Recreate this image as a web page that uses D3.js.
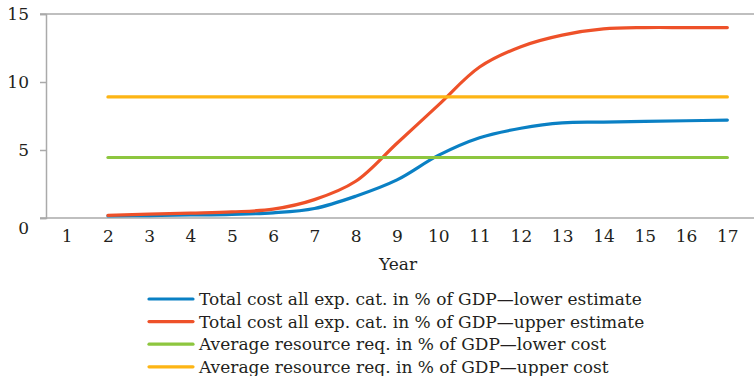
<!DOCTYPE html>
<html>
<head>
<meta charset="utf-8">
<script src="https://cdn.jsdelivr.net/npm/d3@7"></script>
<style>
  html, body { margin: 0; padding: 0; background: #fff; }
  svg { display: block; font-family: "DejaVu Serif", serif; }
</style>
</head>
<body>
<svg id="chart" width="754" height="376"></svg>
<script>
// Years on the horizontal axis
const years = [1, 2, 3, 4, 5, 6, 7, 8, 9, 10, 11, 12, 13, 14, 15, 16, 17];
// Series start at year 2
const seriesYears = [2, 3, 4, 5, 6, 7, 8, 9, 10, 11, 12, 13, 14, 15, 16, 17];
const totalLower = [0.15, 0.18, 0.22, 0.27, 0.38, 0.7, 1.6, 2.8, 4.6, 5.9, 6.6, 7.0, 7.05, 7.1, 7.15, 7.2];
const totalUpper = [0.2, 0.28, 0.36, 0.45, 0.65, 1.35, 2.7, 5.5, 8.3, 11.1, 12.6, 13.45, 13.9, 14.0, 14.0, 14.0];
const avgLower = seriesYears.map(() => 4.45);
const avgUpper = seriesYears.map(() => 8.9);
const yTicks = [0, 5, 10, 15];
const seriesNames = [
  "Total cost all exp. cat. in % of GDP\u2014lower estimate",
  "Total cost all exp. cat. in % of GDP\u2014upper estimate",
  "Average resource req. in % of GDP\u2014lower cost",
  "Average resource req. in % of GDP\u2014upper cost"
];
const seriesColors = ["#0a80c4", "#ee5129", "#8dc63f", "#fdb515"];
const seriesValues = [totalLower, totalUpper, avgLower, avgUpper];

const svg = d3.select("#chart");
const axisColor = "#aaaaaa";
const textColor = "#231f20";
const fontSize = "17px";

const x = d3.scalePoint().domain(years).range([46, 748]).padding(0.5);
const y = d3.scaleLinear().domain([0, 15]).range([218, 14]);

// Top boundary line and x-axis baseline
svg.append("line").attr("x1", 40).attr("x2", 754).attr("y1", y(15)).attr("y2", y(15))
  .attr("stroke", axisColor).attr("stroke-width", 1.5);
svg.append("line").attr("x1", 40).attr("x2", 754).attr("y1", y(0)).attr("y2", y(0))
  .attr("stroke", axisColor).attr("stroke-width", 1.5);

// Y axis
const yAxis = svg.append("g").attr("transform", "translate(46,0)")
  .call(d3.axisLeft(y).tickValues(yTicks).tickSize(6).tickPadding(11).tickFormat(d3.format("d")));
yAxis.select(".domain").attr("stroke", axisColor).attr("stroke-width", 1.5);
yAxis.selectAll(".tick line").attr("stroke", axisColor).attr("stroke-width", 1.5);
yAxis.selectAll(".tick text")
  .attr("fill", textColor)
  .style("font-family", "'DejaVu Serif', serif")
  .style("font-size", fontSize)
  .attr("dy", d => d === 0 ? "0.9em" : "0.35em");

// X axis labels (no tick marks)
const xAxis = svg.append("g").attr("transform", `translate(0,${y(0)})`)
  .call(d3.axisBottom(x).tickSize(0).tickPadding(12));
xAxis.select(".domain").remove();
xAxis.selectAll(".tick text")
  .attr("fill", textColor)
  .style("font-family", "'DejaVu Serif', serif")
  .style("font-size", fontSize);

svg.append("text").attr("x", 398).attr("y", 270).attr("text-anchor", "middle")
  .attr("fill", textColor).style("font-size", fontSize).text("Year");

// Series lines, smoothed
const line = d3.line()
  .x((d, i) => x(seriesYears[i]))
  .y(d => y(d))
  .curve(d3.curveCatmullRom.alpha(0.5));

seriesValues.forEach((vals, k) => {
  svg.append("path")
    .datum(vals)
    .attr("d", line)
    .attr("fill", "none")
    .attr("stroke", seriesColors[k])
    .attr("stroke-width", 3.2)
    .attr("stroke-linecap", "round")
    .attr("stroke-linejoin", "round");
});

// Legend
const legend = svg.append("g").attr("transform", "translate(149,299)");
seriesNames.forEach((name, k) => {
  const g = legend.append("g").attr("transform", `translate(0,${k * 22.6})`);
  g.append("line").attr("x1", 0).attr("x2", 44).attr("y1", 0).attr("y2", 0)
    .attr("stroke", seriesColors[k]).attr("stroke-width", 3.2).attr("stroke-linecap", "round");
  g.append("text").attr("x", 50).attr("y", 0).attr("dy", "0.35em")
    .attr("fill", textColor).style("font-size", fontSize).text(name);
});
</script>
</body>
</html>
